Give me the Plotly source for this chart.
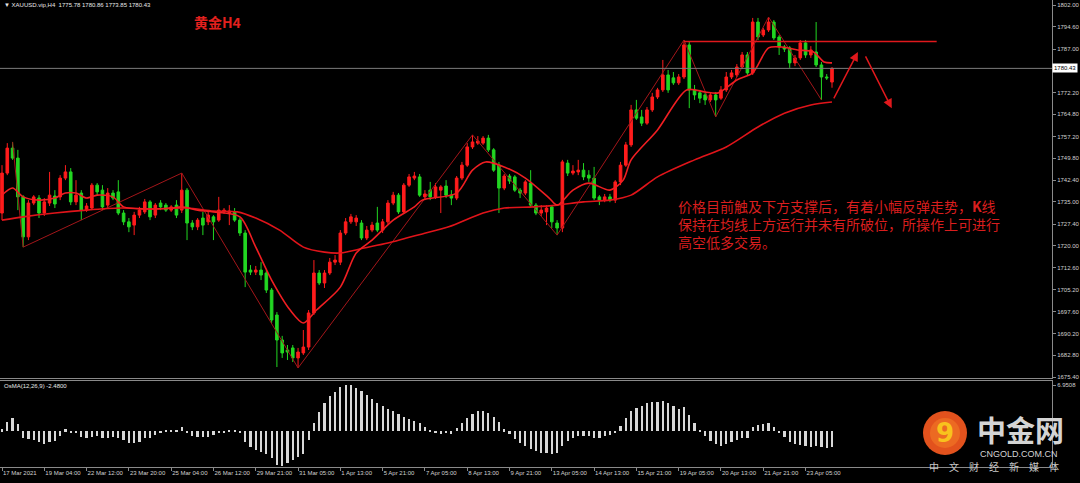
import plotly.graph_objects as go

# ---------------- data ----------------
opens = [
1731.2, 1744.8, 1753.3, 1749.9, 1736.7, 1723.1, 1734.6, 1736.3, 1731.2, 1734.6,
1737.0, 1736.7, 1743.1, 1745.2, 1735.0, 1738.0, 1732.2, 1732.9, 1740.7, 1739.0,
1733.9, 1738.0, 1738.4, 1731.2, 1728.2, 1727.1, 1730.5, 1731.6, 1735.0, 1730.5,
1734.6, 1733.9, 1732.2, 1733.9, 1732.2, 1739.0, 1727.8, 1726.5, 1729.5, 1728.2,
1729.9, 1728.8, 1731.6, 1731.2, 1731.6, 1728.8, 1724.4, 1711.8, 1711.1, 1711.8,
1710.8, 1705.0, 1696.5, 1688.0, 1684.6, 1685.3, 1681.9, 1683.6, 1685.6, 1697.2,
1710.8, 1707.4, 1710.8, 1714.5, 1714.5, 1724.4, 1728.2, 1728.2, 1727.8, 1722.7,
1725.4, 1727.8, 1725.4, 1728.2, 1734.6, 1737.3, 1731.6, 1740.7, 1743.1, 1743.5,
1736.7, 1739.0, 1736.7, 1739.0, 1740.4, 1737.3, 1736.3, 1743.1, 1747.5, 1753.7,
1755.0, 1755.0, 1756.7, 1752.7, 1747.5, 1739.7, 1743.8, 1743.5, 1739.0, 1738.0,
1741.4, 1733.9, 1731.2, 1731.6, 1733.3, 1727.8, 1726.1, 1748.2, 1744.8, 1745.2,
1745.8, 1744.1, 1743.1, 1736.7, 1735.6, 1736.7, 1735.6, 1741.8, 1747.5, 1754.4,
1766.3, 1763.9, 1761.8, 1766.3, 1770.7, 1773.1, 1778.2, 1777.2, 1775.5, 1777.5,
1788.4, 1773.1, 1772.1, 1771.4, 1769.7, 1771.4, 1770.3, 1773.1, 1777.5, 1778.2,
1780.9, 1785.0, 1778.9, 1796.2, 1791.8, 1793.5, 1796.2, 1791.1, 1787.7, 1787.4,
1782.3, 1784.0, 1789.1, 1785.0, 1786.0, 1781.6, 1777.5, 1775.78]

highs = [
1747.5, 1755.0, 1755.4, 1752.7, 1737.3, 1735.6, 1737.3, 1737.3, 1736.3, 1745.2,
1739.0, 1744.1, 1747.5, 1746.5, 1742.4, 1739.0, 1734.6, 1741.4, 1741.4, 1740.7,
1739.7, 1739.0, 1742.4, 1732.2, 1729.5, 1731.6, 1733.3, 1736.0, 1735.6, 1734.6,
1735.6, 1734.6, 1733.9, 1735.6, 1744.8, 1739.7, 1728.8, 1729.5, 1731.6, 1731.6,
1730.5, 1736.7, 1732.9, 1733.9, 1732.9, 1729.5, 1725.4, 1713.5, 1713.2, 1714.5,
1711.8, 1705.7, 1697.5, 1689.4, 1686.3, 1686.3, 1685.3, 1691.4, 1698.2, 1715.2,
1711.8, 1711.8, 1715.9, 1716.9, 1725.4, 1729.5, 1730.9, 1730.5, 1728.8, 1726.8,
1728.2, 1733.3, 1729.2, 1735.6, 1738.4, 1738.0, 1741.4, 1744.5, 1745.2, 1744.5,
1739.0, 1741.8, 1741.4, 1740.7, 1742.4, 1739.0, 1743.8, 1748.6, 1755.0, 1757.8,
1757.4, 1757.4, 1757.8, 1753.3, 1748.6, 1744.5, 1744.5, 1744.1, 1739.7, 1742.4,
1745.8, 1734.6, 1733.9, 1733.9, 1733.9, 1728.8, 1749.3, 1749.3, 1747.5, 1749.3,
1748.2, 1745.8, 1746.9, 1737.3, 1737.7, 1737.7, 1742.4, 1748.6, 1755.4, 1768.0,
1769.7, 1766.3, 1767.3, 1772.1, 1773.8, 1783.3, 1779.9, 1779.2, 1778.5, 1790.1,
1789.4, 1774.8, 1773.1, 1772.4, 1772.4, 1772.4, 1774.4, 1779.2, 1779.9, 1781.9,
1786.0, 1786.0, 1797.6, 1797.6, 1794.2, 1797.9, 1796.9, 1791.8, 1788.4, 1788.0,
1785.0, 1790.1, 1790.1, 1788.0, 1796.2, 1782.6, 1778.5, 1780.86]

lows = [
1728.8, 1744.1, 1749.3, 1732.2, 1719.6, 1722.0, 1733.9, 1729.5, 1730.2, 1733.6,
1732.9, 1735.6, 1742.4, 1733.9, 1733.9, 1728.8, 1731.6, 1732.2, 1737.3, 1732.2,
1732.9, 1735.6, 1730.5, 1727.1, 1724.7, 1723.7, 1729.5, 1730.9, 1728.8, 1729.5,
1732.2, 1731.6, 1731.6, 1729.5, 1731.2, 1722.0, 1725.4, 1725.4, 1723.7, 1727.1,
1722.0, 1728.2, 1730.9, 1727.1, 1728.2, 1723.4, 1706.0, 1710.1, 1710.1, 1708.4,
1704.0, 1693.8, 1678.8, 1681.9, 1681.2, 1680.5, 1678.5, 1682.9, 1684.6, 1696.5,
1706.7, 1705.7, 1710.1, 1713.5, 1713.5, 1723.7, 1727.5, 1726.8, 1722.0, 1722.0,
1724.7, 1724.7, 1724.4, 1727.5, 1733.9, 1730.9, 1730.9, 1740.1, 1742.4, 1736.7,
1735.6, 1735.6, 1736.0, 1731.2, 1736.3, 1733.9, 1735.6, 1742.4, 1746.9, 1753.0,
1754.4, 1754.4, 1752.0, 1745.2, 1731.2, 1739.0, 1741.1, 1738.4, 1736.3, 1737.3,
1733.3, 1730.5, 1730.2, 1727.1, 1726.1, 1723.7, 1724.7, 1743.8, 1744.1, 1744.1,
1742.4, 1741.8, 1735.6, 1733.9, 1734.9, 1734.9, 1734.6, 1740.7, 1746.9, 1753.7,
1762.9, 1760.8, 1761.2, 1765.6, 1770.0, 1772.4, 1772.1, 1774.8, 1774.8, 1776.8,
1766.9, 1769.7, 1768.6, 1768.0, 1769.0, 1763.9, 1769.7, 1772.4, 1776.8, 1777.5,
1780.2, 1778.2, 1778.2, 1790.1, 1791.1, 1792.8, 1790.1, 1785.0, 1786.0, 1780.6,
1781.2, 1783.3, 1784.0, 1784.0, 1780.9, 1769.7, 1776.5, 1773.85]

closes = [
1744.8, 1753.3, 1749.9, 1736.7, 1723.1, 1734.6, 1736.7, 1731.2, 1735.0, 1737.3,
1734.3, 1743.1, 1745.2, 1735.0, 1737.3, 1732.2, 1733.6, 1740.7, 1738.4, 1733.3,
1738.0, 1736.3, 1731.2, 1728.2, 1726.5, 1730.5, 1732.2, 1735.0, 1729.9, 1733.9,
1733.3, 1732.2, 1733.3, 1730.5, 1739.0, 1727.8, 1726.5, 1728.8, 1727.1, 1730.5,
1728.2, 1732.2, 1732.2, 1731.9, 1728.8, 1724.4, 1711.1, 1711.1, 1711.8, 1710.1,
1705.0, 1694.8, 1688.0, 1683.6, 1683.9, 1681.9, 1683.9, 1685.6, 1697.2, 1710.8,
1707.4, 1710.8, 1714.5, 1715.2, 1724.4, 1728.2, 1729.9, 1729.5, 1722.7, 1725.4,
1727.1, 1725.4, 1728.2, 1734.6, 1737.3, 1731.6, 1740.7, 1743.5, 1743.8, 1737.3,
1737.7, 1736.7, 1740.1, 1740.1, 1737.3, 1736.3, 1743.1, 1747.5, 1753.7, 1755.4,
1755.7, 1756.7, 1752.7, 1745.8, 1739.7, 1743.8, 1742.1, 1739.0, 1738.0, 1741.8,
1733.9, 1731.2, 1732.2, 1732.9, 1728.2, 1726.1, 1748.6, 1744.8, 1745.5, 1745.8,
1743.5, 1743.1, 1736.3, 1735.6, 1736.7, 1735.6, 1741.8, 1747.5, 1754.4, 1766.3,
1763.5, 1761.8, 1766.3, 1770.7, 1773.1, 1778.2, 1773.1, 1775.5, 1777.5, 1788.4,
1773.1, 1771.4, 1770.3, 1769.7, 1771.4, 1769.7, 1773.1, 1777.5, 1778.9, 1780.9,
1785.0, 1778.9, 1796.2, 1791.1, 1793.5, 1796.2, 1790.8, 1787.7, 1787.0, 1782.3,
1784.0, 1789.1, 1785.0, 1786.7, 1781.6, 1777.5, 1777.2, 1780.43]

bars = list(range(len(closes)))

# moving averages (values read at sample bars)
ma_fast_bar = [0, 2, 4, 7, 10, 12, 14, 16, 18, 21, 23, 27, 32, 34, 37, 40, 45, 48, 51, 54.5, 57, 59.5,
               64, 67, 70, 74, 78, 79.5, 86, 89, 91.5, 95, 99, 103.5, 105, 108, 111, 115, 117.5, 119,
               124, 129.5, 133, 135.5, 139, 142, 145, 147.5, 150.5, 153.5, 155.5, 157]
ma_fast_val = [1737.3, 1739.7, 1736.7, 1735.6, 1736.3, 1738.0, 1738.0, 1736.3, 1737.3, 1736.7, 1733.3,
               1732.6, 1732.9, 1733.3, 1732.2, 1731.6, 1729.9, 1719.6, 1708.4, 1698.2, 1693.8, 1698.2,
               1706.0, 1717.6, 1722.0, 1728.8, 1733.3, 1735.6, 1738.0, 1745.8, 1748.6, 1746.9, 1743.1,
               1736.3, 1733.9, 1739.0, 1741.4, 1739.0, 1742.4, 1749.3, 1759.5, 1773.1, 1772.4, 1772.1,
               1776.5, 1778.9, 1787.4, 1787.7, 1786.7, 1786.0, 1782.6, 1782.3]
ma_slow_bar = [0, 4, 10, 16, 22.5, 28.5, 35, 40, 44.5, 48, 52.5, 57, 61, 64, 68.5, 73, 76.5, 79.5,
               84.5, 91, 95, 100.5, 105, 110, 115, 119, 124, 131, 137, 143, 148, 153, 157]
ma_slow_val = [1728.8, 1729.9, 1731.2, 1732.2, 1732.9, 1732.6, 1732.9, 1731.9, 1731.6, 1729.5, 1725.4,
               1719.6, 1717.9, 1717.6, 1719.3, 1721.0, 1722.7, 1724.1, 1726.5, 1731.2, 1732.9, 1733.3,
               1733.9, 1735.0, 1735.6, 1737.3, 1743.5, 1749.3, 1753.7, 1760.5, 1765.2, 1768.0, 1769.0]

# zigzag pivots
zz_bar = [2, 4, 34, 56, 89, 105, 129, 135, 145, 155]
zz_val = [1755.4, 1719.6, 1744.8, 1678.5, 1757.8, 1723.7, 1790.1, 1763.9, 1797.9, 1769.7]

# OsMA(12,26,9) histogram
osma = [0.3, 1.41, 1.92, 1.01, -1.01, -1.21, -1.36, -1.62, -1.97, -1.62, -1.52, -0.76, 0.25, -0.25,
        -0.35, -0.86, -1.11, -0.86, -0.76, -1.11, -1.01, -0.86, -1.11, -1.36, -1.87, -1.87, -1.62,
        -1.11, -1.11, -0.61, -0.15, 0.15, 0.15, 0.15, 0.66, -0.35, -0.76, -0.86, -0.86, -0.86, -0.61,
        -0.35, -0.25, 0.15, 0.15, -0.35, -1.62, -2.37, -2.88, -3.13, -3.54, -4.14, -5.15, -5.25,
        -4.90, -4.39, -3.89, -3.54, -1.36, 1.16, 2.93, 4.19, 5.35, 5.86, 6.72, 6.97, 6.97, 6.46,
        6.0, 5.4, 4.8, 4.3, 3.8, 3.4, 3.0, 2.6, 2.2, 1.8, 1.5, 1.2,
        0.6, 0.2, -0.2, -0.4, -0.3, -0.5,
        0.4, 1.2, 2.0, 2.6, 3.0, 3.1, 2.8, 2.2, 1.3,
        0.3, -0.5, -1.2, -1.8, -2.2, -2.7, -3.1, -3.3, -3.4, -3.5, -3.3, -2.2,
        -1.5, -1.0, -0.7, -0.7, -0.7, -1.0, -1.0, -0.8, -0.6, -0.2,
        0.8, 1.9, 3.0, 3.5, 3.8, 4.2, 4.4, 4.4, 4.5, 4.2, 3.8, 3.4, 3.6,
        2.5, 1.2, 0.2, -0.8, -1.5, -2.0, -2.2, -2.0, -1.7, -1.4, -1.0,
        -1.0, 0.6, 0.9, 1.1, 1.2, 0.6,
        -0.3, -0.9, -1.6, -2.0, -2.1, -2.3, -2.4, -2.2, -2.4, -2.5, -2.48]
osma_bars = list(range(len(osma)))

# axes labels
price_ticks = [1802.00, 1794.60, 1787.00, 1772.20, 1764.80, 1757.20, 1749.80, 1742.40, 1735.00,
               1727.40, 1720.00, 1712.60, 1705.20, 1697.60, 1690.20, 1682.80, 1675.40]
time_labels = ["17 Mar 2021", "19 Mar 04:00", "22 Mar 12:00", "23 Mar 20:00", "25 Mar 04:00",
               "26 Mar 12:00", "29 Mar 21:00", "31 Mar 05:00", "1 Apr 13:00", "5 Apr 21:00",
               "7 Apr 05:00", "8 Apr 13:00", "9 Apr 21:00", "13 Apr 05:00", "14 Apr 13:00",
               "15 Apr 21:00", "19 Apr 05:00", "20 Apr 13:00", "21 Apr 21:00", "23 Apr 05:00"]
bars_per_label = 8
osma_max_label = 6.9508

# drawn objects
resistance_level = 1789.6
resistance_bars = [129, 176.8]
arrow_up = [157.2, 1769.7, 161.9, 1786.0]     # tail bar, tail price, head bar, head price
arrow_down = [163.2, 1785.0, 168.3, 1766.9]

header = "▼ XAUUSD.vip,H4  1775.78 1780.86 1773.85 1780.43"
title_text = "<b>黄金H4</b>"
note_lines = ["价格目前触及下方支撑后，有着小幅反弹走势，<b>K</b>线",
              "保持在均线上方运行并未有所破位，所操作上可进行",
              "高空低多交易。"]

# ---------------- figure ----------------
W, H = 1080, 483
def px(x): return x / W
def py(y): return 1 - y / H

UP = "#ff1c1c"
DN = "#22d622"
AXC = "#8a8a8a"
TXT = "#d0d0d0"
SMALL = dict(family="Liberation Sans", size=6, color=TXT)

XR = 1052 / W
spacing = 830 / (len(closes) - 1)
r0 = -2 / spacing
r1 = r0 + 1052 / spacing

fig = go.Figure()
fig.add_trace(go.Candlestick(
    x=bars, open=opens, high=highs, low=lows, close=closes,
    increasing=dict(line=dict(color=UP, width=1), fillcolor=UP),
    decreasing=dict(line=dict(color=DN, width=1), fillcolor=DN),
    whiskerwidth=0, showlegend=False, hoverinfo="skip", xaxis="x", yaxis="y"))
fig.add_trace(go.Scatter(x=zz_bar, y=zz_val, mode="lines",
                         line=dict(color="#a3161a", width=1), showlegend=False,
                         hoverinfo="skip", xaxis="x", yaxis="y"))
fig.add_trace(go.Scatter(x=ma_slow_bar, y=ma_slow_val, mode="lines",
                         line=dict(color="#e0141a", width=1.6, shape="spline", smoothing=0.8),
                         showlegend=False, hoverinfo="skip", xaxis="x", yaxis="y"))
fig.add_trace(go.Scatter(x=ma_fast_bar, y=ma_fast_val, mode="lines",
                         line=dict(color="#f01e22", width=1.6, shape="spline", smoothing=0.8),
                         showlegend=False, hoverinfo="skip", xaxis="x", yaxis="y"))
fig.add_trace(go.Bar(x=osma_bars, y=osma, width=0.42, marker=dict(color="#d8d8d8", line=dict(width=0)),
                     showlegend=False, hoverinfo="skip", xaxis="x2", yaxis="y2"))

fig.update_layout(
    width=W, height=H, margin=dict(l=0, r=0, t=0, b=0, autoexpand=False),
    paper_bgcolor="black", plot_bgcolor="black", bargap=0,
    xaxis=dict(domain=[0, XR], range=[r0, r1], anchor="y", showticklabels=False, ticks="",
               showgrid=False, zeroline=False, showline=True, linecolor=AXC, linewidth=1,
               rangeslider=dict(visible=False), automargin=False),
    yaxis=dict(domain=[py(378), 1], range=[1675.07, 1803.70], side="right", anchor="x",
               tickvals=price_ticks, ticktext=[f"{v:.2f}" for v in price_ticks],
               ticks="outside", ticklen=3, tickcolor=AXC, tickfont=SMALL, automargin=False,
               showgrid=False, zeroline=False, showline=True, linecolor=AXC, linewidth=1),
    xaxis2=dict(domain=[0, XR], matches="x", anchor="y2",
                tickvals=[i * bars_per_label for i in range(len(time_labels))], ticktext=time_labels,
                ticks="outside", ticklen=3, tickcolor=AXC, tickfont=SMALL, tickangle=0,
                ticklabelposition="outside right", automargin=False,
                showgrid=False, zeroline=False, showline=True, mirror=True, linecolor=AXC, linewidth=1),
    yaxis2=dict(domain=[py(467), py(381)], range=[-5.45, 7.58], side="right", anchor="x2",
                tickvals=[osma_max_label], ticktext=[f"{osma_max_label:.4f}"],
                ticks="outside", ticklen=3, tickcolor=AXC, tickfont=SMALL, automargin=False,
                showgrid=False, zeroline=False, showline=True, linecolor=AXC, linewidth=1),
)

shapes = [
    dict(type="line", xref="paper", yref="y", x0=0, x1=XR, y0=closes[-1], y1=closes[-1],
         line=dict(color="#7c7c7c", width=1)),
    dict(type="line", xref="x", yref="y", x0=resistance_bars[0], x1=resistance_bars[1],
         y0=resistance_level, y1=resistance_level, line=dict(color="#e0181c", width=1.6)),
    dict(type="circle", xref="paper", yref="paper", x0=px(923), x1=px(967), y0=py(455), y1=py(411),
         fillcolor="#e2521d", line=dict(width=0), layer="above"),
    dict(type="circle", xref="paper", yref="paper", x0=px(930), x1=px(960), y0=py(448), y1=py(418),
         fillcolor="#ec6a22", line=dict(width=0), layer="above"),
]
fig.update_layout(shapes=shapes)

ann = []
ann.append(dict(xref="x", yref="y", axref="x", ayref="y", x=arrow_up[2], y=arrow_up[3],
                ax=arrow_up[0], ay=arrow_up[1], showarrow=True, arrowhead=2, arrowsize=1.2,
                arrowwidth=1.5, arrowcolor="#e0181c", text=""))
ann.append(dict(xref="x", yref="y", axref="x", ayref="y", x=arrow_down[2], y=arrow_down[3],
                ax=arrow_down[0], ay=arrow_down[1], showarrow=True, arrowhead=2, arrowsize=1.2,
                arrowwidth=1.5, arrowcolor="#e0181c", text=""))
ann.append(dict(xref="paper", yref="y", x=XR, y=closes[-1], xanchor="left", yanchor="middle",
                text=f"{closes[-1]:.2f}", showarrow=False, bgcolor="white", borderpad=1,
                font=dict(family="Liberation Sans", size=6, color="black")))
ann.append(dict(xref="paper", yref="paper", x=px(2), y=py(5), xanchor="left", yanchor="middle",
                text=header, showarrow=False, font=dict(family="Liberation Sans", size=6, color="#e8e8e8")))
ann.append(dict(xref="paper", yref="paper", x=px(2), y=py(386), xanchor="left", yanchor="middle",
                text="OsMA(12,26,9) -2.4800", showarrow=False,
                font=dict(family="Liberation Sans", size=6, color="#e8e8e8")))
ann.append(dict(xref="paper", yref="paper", x=px(192), y=py(22), xanchor="left", yanchor="middle",
                text=title_text, showarrow=False,
                font=dict(family="Noto Sans CJK SC", size=14, color="#e4201e")))
ann.append(dict(xref="paper", yref="paper", x=px(676), y=py(224), xanchor="left",
                yanchor="middle", text="<br>".join(note_lines), showarrow=False, align="left",
                font=dict(family="Noto Sans CJK SC", size=14, color="#d91e1e")))
# logo
ann.append(dict(xref="paper", yref="paper", x=px(945), y=py(433), xanchor="center", yanchor="middle",
                text="<b>9</b>", showarrow=False,
                font=dict(family="DejaVu Sans", size=26, color="#f8c21d")))
ann.append(dict(xref="paper", yref="paper", x=px(1020), y=py(429), xanchor="center", yanchor="middle",
                text="<b>中金网</b>", showarrow=False,
                font=dict(family="Noto Sans CJK SC", size=29, color="#d4d4d4")))
ann.append(dict(xref="paper", yref="paper", x=px(1019), y=py(454), xanchor="center", yanchor="middle",
                text="CNGOLD.COM.CN", showarrow=False,
                font=dict(family="Liberation Sans", size=9, color="#d4d4d4")))
ann.append(dict(xref="paper", yref="paper", x=px(994), y=py(466), xanchor="center", yanchor="middle",
                text="中\u3000文\u3000财\u3000经\u3000新\u3000媒\u3000体", showarrow=False,
                font=dict(family="Noto Sans CJK SC", size=10, color="#c8c8c8")))
fig.update_layout(annotations=ann)

fig.write_html("out.html", config={"displayModeBar": False},
               post_script="document.body.style.margin='0';document.body.style.overflow='hidden';")
